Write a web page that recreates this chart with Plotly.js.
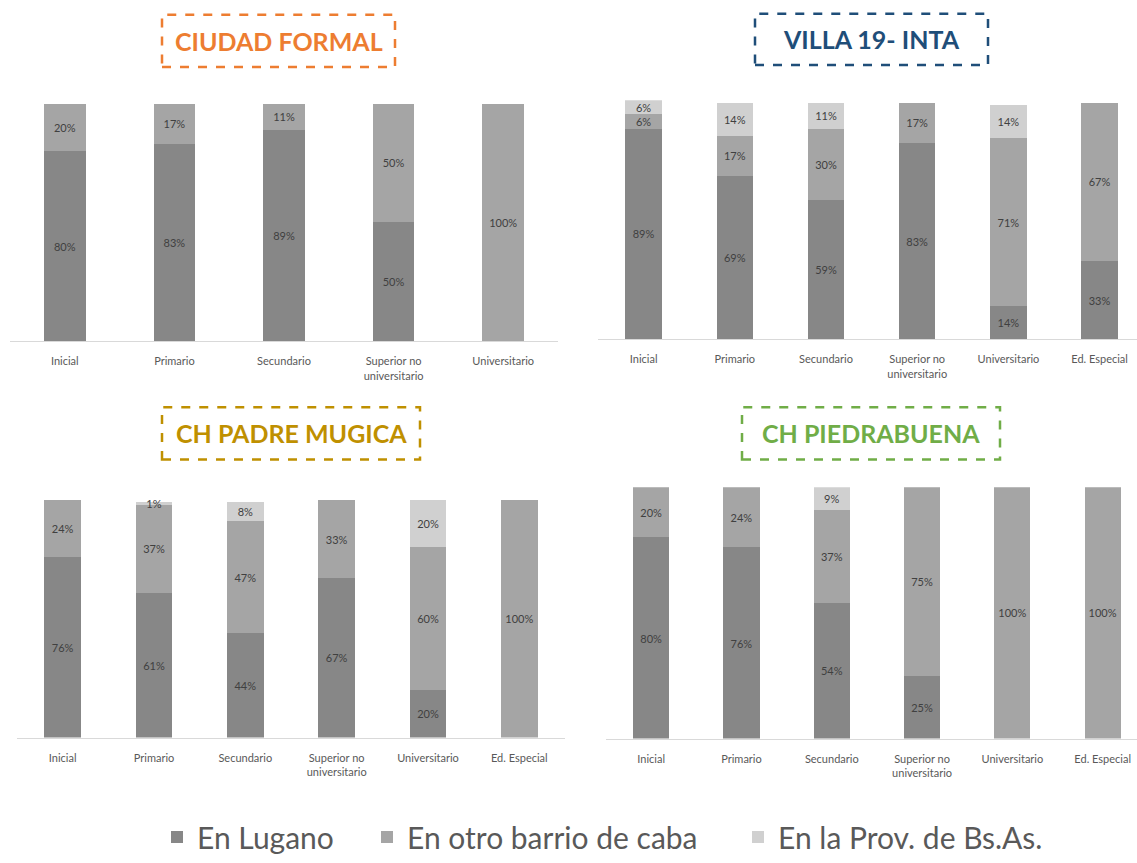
<!DOCTYPE html>
<html><head><meta charset="utf-8">
<script src="https://cdn.plot.ly/plotly-3.0.1.min.js"></script>
<style>body{margin:0;background:#fff}#chart{width:1137px;height:863px}</style>
</head><body><div id="chart"></div>
<script>
// ---- data ----
const seriesNames = ["En Lugano", "En otro barrio de caba", "En la Prov. de Bs.As."];
const panelTitles = ["CIUDAD FORMAL", "VILLA 19- INTA", "CH PADRE MUGICA", "CH PIEDRABUENA"];

const catsFormal = ["Inicial", "Primario", "Secundario", "Superior no<br>universitario", "Universitario"];
const catsOther = ["Inicial", "Primario", "Secundario", "Superior no<br>universitario", "Universitario", "Ed. Especial"];

const formalLugano = [80, 83, 89, 50, 0];
const formalOtro   = [20, 17, 11, 50, 100];
const formalProv   = [0, 0, 0, 0, 0];

const villaLugano = [89, 69, 59, 83, 14, 33];
const villaOtro   = [6, 17, 30, 17, 71, 67];
const villaProv   = [6, 14, 11, 0, 14, 0];

const mugicaLugano = [76, 61, 44, 67, 20, 0];
const mugicaOtro   = [24, 37, 47, 33, 60, 100];
const mugicaProv   = [0, 1, 8, 0, 20, 0];

const piedraLugano = [80, 76, 54, 25, 0, 0];
const piedraOtro   = [20, 24, 37, 75, 100, 100];
const piedraProv   = [0, 0, 9, 0, 0, 0];

// ---- styling ----
const W = 1137, H = 863;
const fx = p => p / W, fy = p => 1 - p / H;
const FONT = "Lato, 'Open Sans', sans-serif";
const colors = ["#878787", "#a5a5a5", "#d0d0d0"];
const titleColors = ["#ED7D31", "#1F4E79", "#BF9000", "#70AD47"];

const panels = [
  {cats: catsFormal, data: [formalLugano, formalOtro, formalProv], width: 0.38,
   dom: [10, 558], ytop: 105, ybot: 346, yr: [0, 100], range: [-0.5, 4.5],
   box: [162, 15, 395, 68]},
  {cats: catsOther, data: [villaLugano, villaOtro, villaProv], width: 0.4,
   dom: [598, 1137], ytop: 101.6, ybot: 344, yr: [0, 101], range: [-0.5, 5.41],
   box: [755, 14, 988, 66]},
  {cats: catsOther, data: [mugicaLugano, mugicaOtro, mugicaProv], width: 0.4,
   dom: [17, 565], ytop: 507, ybot: 748, yr: [0, 100], range: [-0.5, 5.5],
   box: [162, 413, 420, 466]},
  {cats: catsOther, data: [piedraLugano, piedraOtro, piedraProv], width: 0.4,
   dom: [606, 1137], ytop: 494, ybot: 749, yr: [0, 100], range: [-0.5, 5.38],
   box: [742, 413, 1000, 466]}
];

const legendIds = ["legend", "legend2", "legend3"];
const traces = [];
const layout = {
  width: W, height: H,
  margin: {l: 0, r: 0, t: 0, b: 0},
  paper_bgcolor: "#fff", plot_bgcolor: "rgba(0,0,0,0)",
  barmode: "stack",
  font: {family: FONT, color: "#595959"},
  shapes: [], annotations: []
};

panels.forEach((p, i) => {
  const sfx = i === 0 ? "" : String(i + 1);
  p.data.forEach((vals, s) => {
    traces.push({
      type: "bar", name: seriesNames[s],
      x: p.cats, y: vals,
      xaxis: "x" + sfx, yaxis: "y" + sfx,
      width: p.width,
      marker: {color: colors[s], line: {width: 0}},
      text: vals.map(v => v > 0 ? v + "%" : ""),
      textposition: "inside", insidetextanchor: "middle",
      textangle: 0, constraintext: "none", cliponaxis: false,
      textfont: {family: FONT, size: 11, color: "#404040"},
      hoverinfo: "skip",
      showlegend: i === 0,
      legend: legendIds[s]
    });
  });
  layout["xaxis" + sfx] = {
    domain: [fx(p.dom[0]), fx(p.dom[1])],
    anchor: "y" + sfx, range: p.range, type: "category",
    showline: true, linecolor: "#d9d9d9", linewidth: 1,
    showgrid: false, zeroline: false, ticks: "",
    ticklabelstandoff: 10,
    tickfont: {family: FONT, size: 11, color: "#595959"},
    fixedrange: true
  };
  layout["yaxis" + sfx] = {
    domain: [fy(p.ybot), fy(p.ytop)],
    anchor: "x" + sfx, range: p.yr,
    visible: false, showgrid: false, zeroline: false, fixedrange: true
  };
  const b = p.box;
  layout.shapes.push({
    type: "rect", xref: "paper", yref: "paper",
    x0: fx(b[0]), x1: fx(b[2]), y0: fy(b[3]), y1: fy(b[1]),
    line: {color: titleColors[i], width: 2.5, dash: "dash"},
    fillcolor: "rgba(0,0,0,0)"
  });
  layout.annotations.push({
    xref: "paper", yref: "paper",
    x: fx((b[0] + b[2]) / 2), y: fy((b[1] + b[3]) / 2),
    xanchor: "center", yanchor: "middle", showarrow: false,
    text: "<b>" + panelTitles[i] + "</b>",
    font: {family: FONT, size: 25, color: titleColors[i]}
  });
});

const legendX = [157, 367, 738];
legendIds.forEach((id, s) => {
  layout[id] = {
    orientation: "h", x: fx(legendX[s]), xanchor: "left",
    y: fy(849), yanchor: "middle",
    bgcolor: "rgba(0,0,0,0)", borderwidth: 0,
    font: {family: FONT, size: 30, color: "#595959"}
  };
});

Plotly.newPlot("chart", traces, layout, {staticPlot: true, displayModeBar: false});
</script></body></html>
